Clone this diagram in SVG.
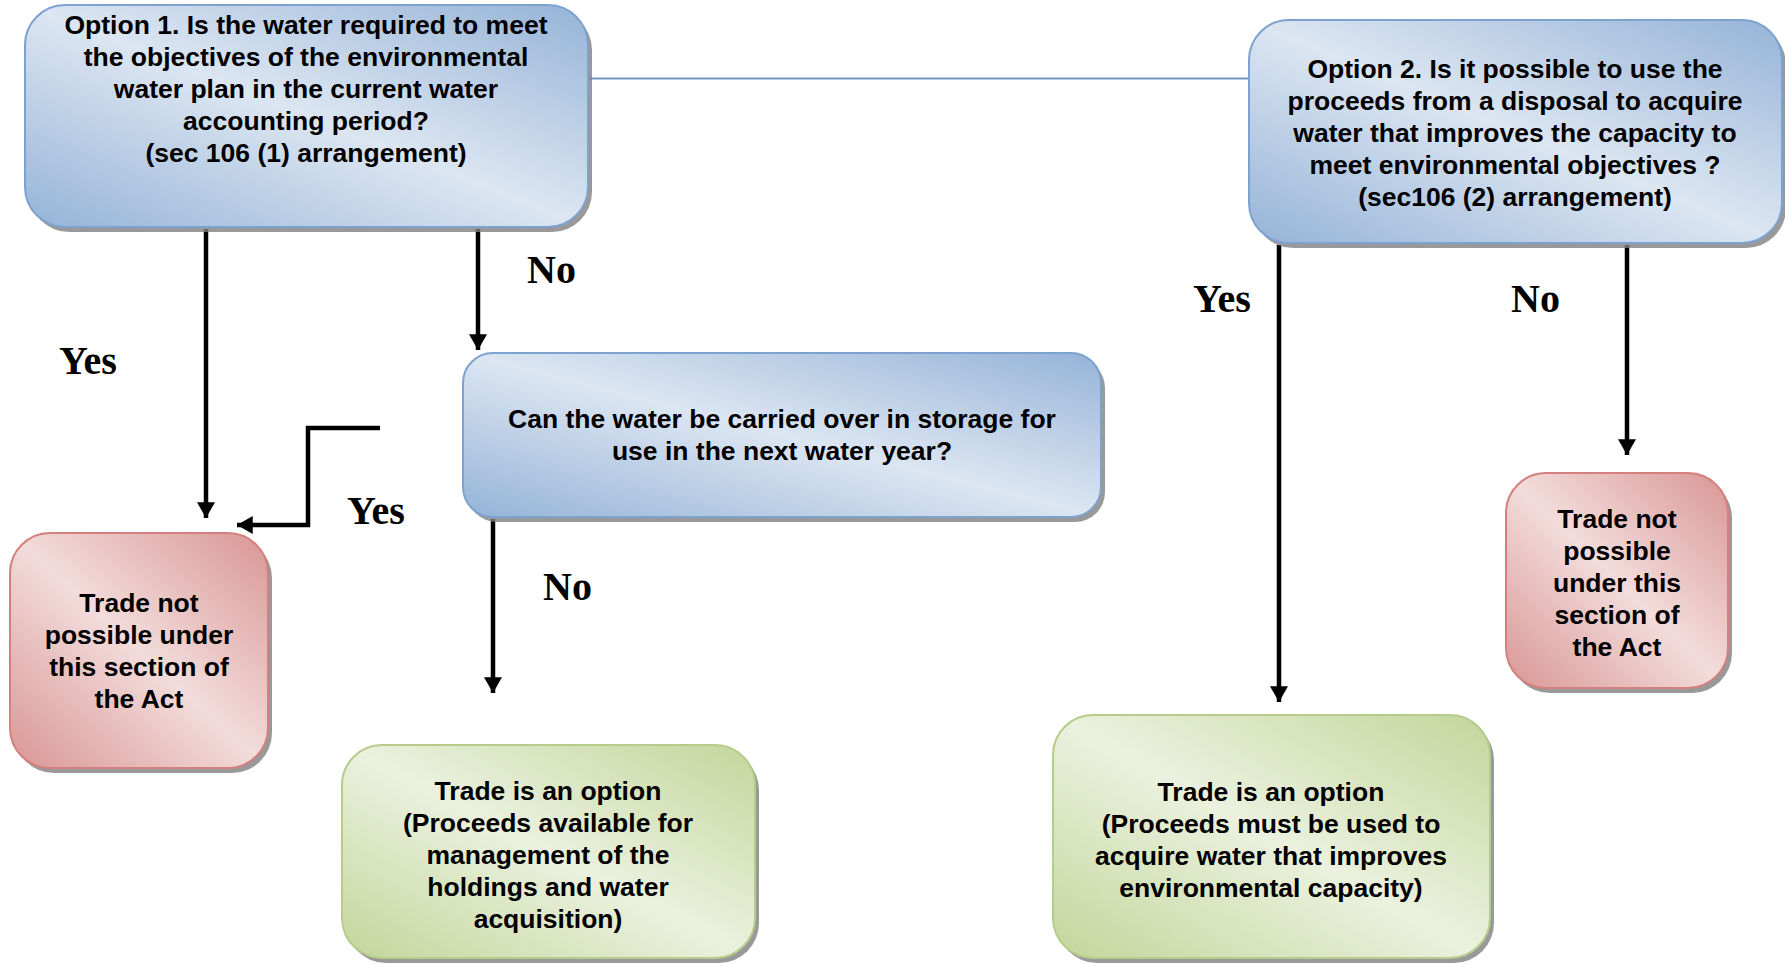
<svg xmlns="http://www.w3.org/2000/svg" width="1785" height="965" viewBox="0 0 1785 965">
<defs>
<linearGradient id="gBlue" x1="0" y1="1" x2="1" y2="0">
<stop offset="0" stop-color="#95b3d7"/>
<stop offset="0.5" stop-color="#dce6f2"/>
<stop offset="1" stop-color="#95b3d7"/>
</linearGradient>
<linearGradient id="gRed" x1="0" y1="1" x2="1" y2="0">
<stop offset="0" stop-color="#d99694"/>
<stop offset="0.5" stop-color="#f2dcdb"/>
<stop offset="1" stop-color="#d99694"/>
</linearGradient>
<linearGradient id="gGreen" x1="0" y1="1" x2="1" y2="0">
<stop offset="0" stop-color="#c3d69b"/>
<stop offset="0.5" stop-color="#ebf1de"/>
<stop offset="1" stop-color="#c3d69b"/>
</linearGradient>
<marker id="arr" markerUnits="userSpaceOnUse" markerWidth="18" markerHeight="18" viewBox="0 0 16 16" refX="14" refY="8" orient="auto">
<path d="M0,0 L14,8 L0,16 Z" fill="#000"/>
</marker>
</defs>
<style>
.sh{fill:#7f7f7f;opacity:0.8}
.blue{fill:url(#gBlue);stroke:#7ea2cf;stroke-width:2}
.red{fill:url(#gRed);stroke:#d4807e;stroke-width:2}
.green{fill:url(#gGreen);stroke:#b5cc8a;stroke-width:2}
.t{font-family:"Liberation Sans",Arial,sans-serif;font-weight:bold;font-size:26.5px;fill:#000;text-anchor:middle}
.lbl{font-family:"Liberation Serif","Times New Roman",serif;font-weight:bold;font-size:40px;fill:#000}
.c{fill:none;stroke:#000;stroke-width:4.5}
</style>
<rect width="1785" height="965" fill="#fff"/>
<g id="connectors">
<line x1="588" y1="78.5" x2="1249" y2="78.5" stroke="#6f95c8" stroke-width="2"/>
<line class="c" x1="206" y1="229" x2="206" y2="518" marker-end="url(#arr)"/>
<line class="c" x1="478" y1="229" x2="478" y2="350" marker-end="url(#arr)"/>
<polyline class="c" points="380,428 308,428 308,525 237,525" marker-end="url(#arr)"/>
<line class="c" x1="493" y1="519" x2="493" y2="693" marker-end="url(#arr)"/>
<line class="c" x1="1279" y1="245" x2="1279" y2="702" marker-end="url(#arr)"/>
<line class="c" x1="1627" y1="245" x2="1627" y2="455" marker-end="url(#arr)"/>
<text class="lbl" x="59" y="374">Yes</text>
<text class="lbl" x="527" y="283">No</text>
<text class="lbl" x="347" y="524">Yes</text>
<text class="lbl" x="543" y="600">No</text>
<text class="lbl" x="1193" y="312">Yes</text>
<text class="lbl" x="1511" y="312">No</text>
</g>
<g id="option1">
<rect class="sh" x="29" y="10" width="563" height="222" rx="40"/>
<rect class="blue" x="25" y="5" width="563" height="222" rx="40"/>
<text class="t"><tspan x="306" y="34">Option 1. Is the water required to meet</tspan><tspan x="306" y="66">the objectives of the environmental</tspan><tspan x="306" y="98">water plan in the current water</tspan><tspan x="306" y="130">accounting period?</tspan><tspan x="306" y="162">(sec 106 (1) arrangement)</tspan></text>
</g>
<g id="option2">
<rect class="sh" x="1253" y="25" width="533" height="223" rx="40"/>
<rect class="blue" x="1249" y="20" width="533" height="223" rx="40"/>
<text class="t"><tspan x="1515" y="78">Option 2. Is it possible to use the</tspan><tspan x="1515" y="110">proceeds from a disposal to acquire</tspan><tspan x="1515" y="142">water that improves the capacity to</tspan><tspan x="1515" y="174">meet environmental objectives ?</tspan><tspan x="1515" y="206">(sec106 (2) arrangement)</tspan></text>
</g>
<g id="carryover">
<rect class="sh" x="467" y="358" width="638" height="164" rx="30"/>
<rect class="blue" x="463" y="353" width="638" height="164" rx="30"/>
<text class="t"><tspan x="782" y="428">Can the water be carried over in storage for</tspan><tspan x="782" y="460">use in the next water year?</tspan></text>
</g>
<g id="notpossible1">
<rect class="sh" x="14" y="538" width="258" height="235" rx="40"/>
<rect class="red" x="10" y="533" width="258" height="235" rx="40"/>
<text class="t"><tspan x="139" y="612">Trade not</tspan><tspan x="139" y="644">possible under</tspan><tspan x="139" y="676">this section of</tspan><tspan x="139" y="708">the Act</tspan></text>
</g>
<g id="notpossible2">
<rect class="sh" x="1510" y="478" width="222" height="215" rx="40"/>
<rect class="red" x="1506" y="473" width="222" height="215" rx="40"/>
<text class="t"><tspan x="1617" y="528">Trade not</tspan><tspan x="1617" y="560">possible</tspan><tspan x="1617" y="592">under this</tspan><tspan x="1617" y="624">section of</tspan><tspan x="1617" y="656">the Act</tspan></text>
</g>
<g id="tradeoption1">
<rect class="sh" x="346" y="750" width="413" height="213" rx="40"/>
<rect class="green" x="342" y="745" width="413" height="213" rx="40"/>
<text class="t"><tspan x="548" y="800">Trade is an option</tspan><tspan x="548" y="832">(Proceeds available for</tspan><tspan x="548" y="864">management of the</tspan><tspan x="548" y="896">holdings and water</tspan><tspan x="548" y="928">acquisition)</tspan></text>
</g>
<g id="tradeoption2">
<rect class="sh" x="1057" y="720" width="437" height="243" rx="40"/>
<rect class="green" x="1053" y="715" width="437" height="243" rx="40"/>
<text class="t"><tspan x="1271" y="801">Trade is an option</tspan><tspan x="1271" y="833">(Proceeds must be used to</tspan><tspan x="1271" y="865">acquire water that improves</tspan><tspan x="1271" y="897">environmental capacity)</tspan></text>
</g>
</svg>
